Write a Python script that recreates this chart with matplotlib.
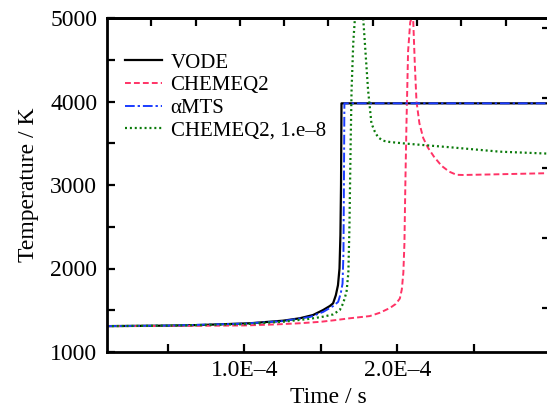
import matplotlib
matplotlib.use("Agg")
import matplotlib.pyplot as plt
import numpy as np

# ── Data (time in units of 1e-4 s, temperature in K) ─────────────────────────
t_vode = np.array([0.10, 0.50, 0.707, 1.035, 1.253, 1.362, 1.449, 1.515, 1.559,
                   1.580, 1.598, 1.612, 1.622, 1.628, 1.632, 1.635, 3.00]) * 1e-4
T_vode = [1310, 1316, 1323, 1344, 1375, 1404, 1443, 1503, 1551,
          1583, 1680, 1800, 2000, 2400, 3000, 3978, 3978]

t_chem = np.array([0.10, 0.50, 1.00, 1.20, 1.36, 1.50, 1.60, 1.69, 1.82, 1.886,
                   1.952, 1.99, 2.017, 2.030, 2.040, 2.047, 2.053, 2.060, 2.071,
                   2.085, 2.094, 2.099, 2.104, 2.115, 2.126, 2.145, 2.170, 2.200,
                   2.240, 2.290, 2.340, 2.388, 2.432, 2.60, 3.00]) * 1e-4
T_chem = [1310, 1311, 1318, 1330, 1344, 1362, 1383, 1404, 1430, 1470,
          1527, 1575, 1640, 1750, 1950, 2300, 3000, 3700, 4601,
          4950, 5000, 5150, 5000, 4450, 4002, 3740, 3563, 3450,
          3340, 3230, 3160, 3122, 3120, 3126, 3142]

t_amts = np.array([0.10, 0.50, 1.00, 1.25, 1.43, 1.515, 1.58, 1.613, 1.630, 1.642,
                   1.648, 1.651, 1.654, 3.00]) * 1e-4
T_amts = [1310, 1316, 1340, 1370, 1420, 1480, 1550, 1600, 1700, 1820,
          2200, 3000, 3978, 3978]

t_chem8 = np.array([0.10, 0.50, 1.00, 1.25, 1.43, 1.515, 1.58, 1.624, 1.646, 1.668,
                    1.680, 1.687, 1.695, 1.701, 1.712, 1.723, 1.75, 1.777, 1.809,
                    1.831, 1.853, 1.875, 1.908, 1.952, 2.061, 2.345, 2.672, 3.00]) * 1e-4
T_chem8 = [1310, 1315, 1333, 1362, 1398, 1423, 1450, 1503, 1583, 1720,
           1950, 2500, 3500, 4138, 4700, 5000, 5800, 5000, 4138,
           3739, 3640, 3570, 3530, 3515, 3495, 3452, 3399, 3375]

labels = ["VODE", "CHEMEQ2", "\u03b1MTS", "CHEMEQ2, 1.e\u20138"]

# ── Style ─────────────────────────────────────────────────────────────────────
plt.rcParams.update({
    "font.family": ["Liberation Serif", "DejaVu Serif"],
    "font.size": 17,
    "axes.linewidth": 2.0,
})

W, H = 547, 412
fig = plt.figure(figsize=(W / 100, H / 100), dpi=100)
left, right, bottom, top = 107, 550, 352, 18
ax = fig.add_axes([left / W, (H - bottom) / H, (right - left) / W, (bottom - top) / H])

ax.plot(t_vode, T_vode, color="black", lw=1.6, label=labels[0])
ax.plot(t_chem, T_chem, color="#ff3366", lw=1.4, dashes=(3, 1.6), label=labels[1])
ax.plot(t_amts, T_amts, color="#1a3cff", lw=1.4, dashes=(5, 1.5, 1.2, 1.5), label=labels[2])
ax.plot(t_chem8, T_chem8, color="#0a7a0a", lw=1.6, dashes=(0.9, 1.3), label=labels[3])

ax.set_xlim(1e-5, 3e-4)
ax.set_ylim(1000, 5000)

xt = np.arange(0.5, 3.0, 0.5) * 1e-4
ax.set_xticks(xt)
ax.set_xticklabels(["", "1.0E\u20134", "", "2.0E\u20134", ""])
yt = np.arange(1000, 5001, 500)
ax.set_yticks(yt)
ax.set_yticklabels([str(v) if v % 1000 == 0 else "" for v in yt])
ax.tick_params(direction="in", length=6, width=1.6, top=False, right=False)
ax.tick_params(axis="x", pad=6)
ax.tick_params(axis="y", pad=7)

# extra tick marks along top and right edges
span = 3e-4 - 1e-5
secx = ax.secondary_xaxis("top", functions=(lambda x: (x - 1e-5) / span,
                                            lambda f: 1e-5 + f * span))
secx.set_xticks(np.arange(0.1, 1.0, 0.1))
secx.tick_params(direction="in", length=6, width=1.6, labeltop=False)
secy = ax.secondary_yaxis("right", functions=(lambda y: (y - 1000) / 4000,
                                              lambda f: 1000 + f * 4000))
secy.set_yticks(np.arange(0.131, 1.0, 0.21))
secy.tick_params(direction="in", length=6, width=1.6, labelright=False)

ax.set_xlabel("Time / s", labelpad=4)
ax.set_ylabel("Temperature / K", labelpad=8)

ax.legend(loc="upper left", bbox_to_anchor=(0.04, 0.895), frameon=False,
          fontsize=15, handlelength=1.8, handletextpad=0.4, labelspacing=0.15,
          borderpad=0, borderaxespad=0)

fig.savefig("out.png", dpi=100)
